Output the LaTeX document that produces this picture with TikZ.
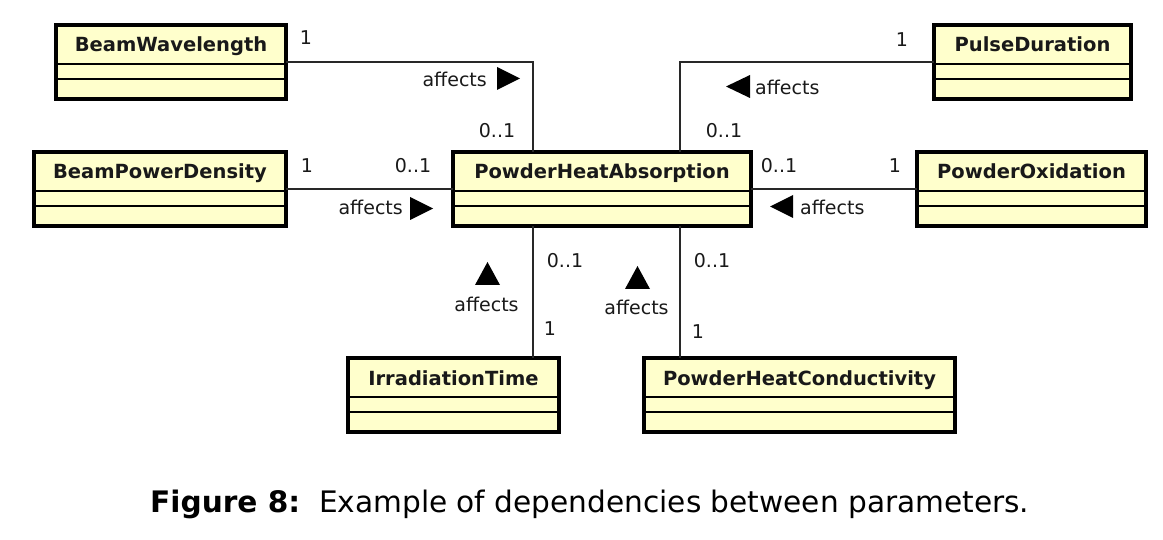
\documentclass[tikz,border=0pt]{standalone}
\usepackage{fontspec}
\setmainfont{DejaVu Sans}
\definecolor{boxfill}{RGB}{255,255,204}
\definecolor{conncol}{RGB}{40,40,40}
\begin{document}
\begin{tikzpicture}[x=1pt,y=-1pt,
  umlbox/.style={draw=black, line width=4pt, fill=boxfill, inner sep=0pt, outer sep=0pt,
    minimum height=74pt, anchor=north west,
    path picture={
      \draw[line width=2pt,black] ([yshift=-39pt]path picture bounding box.north west) -- ([yshift=-39pt]path picture bounding box.north east);
      \draw[line width=2pt,black] ([yshift=-54pt]path picture bounding box.north west) -- ([yshift=-54pt]path picture bounding box.north east);
    }},
  ttl/.style={anchor=base, inner sep=0pt, font=\fontsize{19.5}{23}\selectfont\bfseries, text=black!90},
  lbl/.style={anchor=base, inner sep=0pt, font=\fontsize{19}{23}\selectfont, text=black!90},
  conn/.style={draw=conncol, line width=1.6pt},
  tri/.style={fill=black}
]
\useasboundingbox (0,0) rectangle (1163,540);

% boxes
\node[umlbox, minimum width=230pt] (bw) at (56,25) {};
\node[umlbox, minimum width=252pt] (bpd) at (34,152) {};
\node[umlbox, minimum width=298pt] (pha) at (453,152) {};
\node[umlbox, minimum width=197pt] (pd) at (934,25) {};
\node[umlbox, minimum width=229pt] (po) at (917,152) {};
\node[umlbox, minimum width=211pt] (it) at (348,358) {};
\node[umlbox, minimum width=311pt] (phc) at (644,358) {};

% titles
\node[ttl] (bwt) at ([yshift=-27pt]bw.north) {BeamWavelength};
\node[ttl] (bpdt) at ([yshift=-27pt]bpd.north) {BeamPowerDensity};
\node[ttl] (phat) at ([yshift=-27pt]pha.north) {PowderHeatAbsorption};
\node[ttl] (pdt) at ([yshift=-27pt]pd.north) {PulseDuration};
\node[ttl] (pot) at ([yshift=-27pt]po.north) {PowderOxidation};
\node[ttl] (itt) at ([yshift=-27pt]it.north) {IrradiationTime};
\node[ttl] (phct) at ([yshift=-27pt]phc.north) {PowderHeatConductivity};

% connectors
\draw[conn] (bw.east) -| ([xshift=80pt]pha.north west);
\draw[conn] (bpd.east) -- (pha.west);
\draw[conn] (pd.west) -| ([xshift=227pt]pha.north west);
\draw[conn] (po.west) -- (pha.east);
\draw[conn] ([xshift=80pt]pha.south west) -- ([xshift=80pt]pha.south west |- it.north);
\draw[conn] ([xshift=227pt]pha.south west) -- ([xshift=227pt]pha.south west |- phc.north);

% multiplicities
\node[lbl] (m1) at (306,45) {1};
\node[lbl] (m2) at (497,138) {0..1};
\node[lbl] (m3) at (307,173) {1};
\node[lbl] (m4) at (413,173) {0..1};
\node[lbl] (m5) at (902,47) {1};
\node[lbl] (m6) at (724,138) {0..1};
\node[lbl] (m7) at (779,173) {0..1};
\node[lbl] (m8) at (895,173) {1};
\node[lbl] (m9) at (565,268) {0..1};
\node[lbl] (m10) at (550,335) {1};
\node[lbl] (m11) at (712,268) {0..1};
\node[lbl] (m12) at (698,338) {1};

% association names
\node[lbl, anchor=base east] (a1) at (487,87) {affects};
\fill[tri] (497,67) -- (520,78.5) -- (497,90) -- cycle;
\node[lbl, anchor=base east] (a2) at (403,215) {affects};
\fill[tri] (410,197) -- (433,208.5) -- (410,220) -- cycle;
\node[lbl, anchor=base west] (a3) at (755,95) {affects};
\fill[tri] (750,75) -- (726,86.5) -- (750,98) -- cycle;
\node[lbl, anchor=base west] (a4) at (800,215) {affects};
\fill[tri] (793,195) -- (770,206.5) -- (793,218) -- cycle;
\node[lbl] (a5) at (486.5,312) {affects};
\fill[tri] (475,285) -- (487.5,262) -- (500,285) -- cycle;
\node[lbl] (a6) at (636.5,315) {affects};
\fill[tri] (625,289) -- (637.5,266) -- (650,289) -- cycle;

% caption
\node[anchor=base west, inner sep=0pt, font=\fontsize{29.6}{35}\selectfont] (cap) at (150,512)
  {\textbf{Figure 8:}\ \ Example of dependencies between parameters.};
\end{tikzpicture}
\end{document}
